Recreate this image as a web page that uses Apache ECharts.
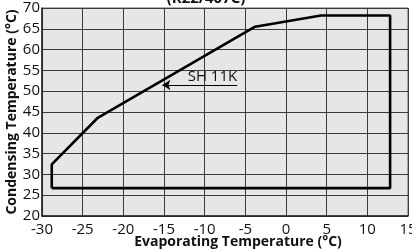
<!DOCTYPE html>
<html>
<head>
<meta charset="utf-8">
<script src="https://cdn.jsdelivr.net/npm/echarts@6/dist/echarts.min.js"></script>
<style>
  html, body { margin: 0; padding: 0; background: #fff; }
  #chart { width: 412px; height: 252px; }
</style>
</head>
<body>
<div id="chart"></div>
<script>
// operating envelope outline (evaporating temp, condensing temp)
var envelopeX = [-28.8, -28.8, -23.2, -3.8, 4.3, 12.8, 12.8, -28.8];
var envelopeY = [26.7, 32.4, 43.5, 65.5, 68.2, 68.2, 26.7, 26.7];

// superheat annotation arrow
var arrowX = [-15.2, -6.0];
var arrowY = 51.5;
var arrowLabel = 'SH 11K';

var xTicks = [-30, -25, -20, -15, -10, -5, 0, 5, 10, 15];
var yTicks = [20, 25, 30, 35, 40, 45, 50, 55, 60, 65, 70];

var font = 'Open Sans';

var chart = echarts.init(document.getElementById('chart'));

var points = envelopeX.map(function (x, i) { return [x, envelopeY[i]]; });

var option = {
  animation: false,
  title: {
    text: '(R22/407C)',
    left: 'center',
    top: -14,
    textStyle: { fontFamily: font, fontWeight: 'bold', fontSize: 15, color: '#111' }
  },
  grid: {
    left: 42,
    right: 4,
    top: 8,
    bottom: 36,
    outerBoundsMode: 'none',
    containLabel: false,
    show: true,
    backgroundColor: '#e6e6e8',
    borderColor: '#666',
    borderWidth: 1
  },
  xAxis: {
    type: 'value',
    min: xTicks[0],
    max: xTicks[xTicks.length - 1],
    interval: 5,
    name: 'Evaporating Temperature (°C)',
    nameLocation: 'middle',
    nameMoveOverlap: false,
    nameGap: 19,
    nameTextStyle: { fontFamily: font, fontWeight: 'bold', fontSize: 14, color: '#111', padding: [0, 0, 0, 26] },
    axisLine: { show: true, onZero: false, lineStyle: { color: '#222', width: 1.5 } },
    axisTick: { show: false },
    axisLabel: { fontFamily: font, fontSize: 15, color: '#111', margin: 6 },
    splitLine: { show: true, lineStyle: { color: '#3a3a3a', width: 1 } }
  },
  yAxis: {
    type: 'value',
    min: yTicks[0],
    max: yTicks[yTicks.length - 1],
    interval: 5,
    name: 'Condensing Temperature (°C)',
    nameLocation: 'middle',
    nameMoveOverlap: false,
    nameGap: 23,
    nameTextStyle: { fontFamily: font, fontWeight: 'bold', fontSize: 14, color: '#111' },
    axisLine: { show: true, onZero: false, lineStyle: { color: '#222', width: 1.5 } },
    axisTick: { show: false },
    axisLabel: { fontFamily: font, fontSize: 15, color: '#111', margin: 2 },
    splitLine: { show: true, lineStyle: { color: '#3a3a3a', width: 1 } }
  },
  series: [
    {
      type: 'line',
      data: points,
      symbol: 'none',
      lineStyle: { color: '#000', width: 2.6 },
      silent: true,
      markLine: {
        silent: true,
        symbolSize: 8,
        lineStyle: { color: '#000', width: 1.2, type: 'solid' },
        label: {
          show: true,
          position: 'insideEndTop',
          formatter: arrowLabel,
          fontFamily: font,
          fontSize: 15,
          color: '#111',
          distance: [0, 1]
        },
        data: [[
          { coord: [arrowX[0], arrowY], symbol: 'arrow' },
          { coord: [arrowX[1], arrowY], symbol: 'none' }
        ]]
      }
    }
  ]
};

chart.setOption(option);
</script>
</body>
</html>
